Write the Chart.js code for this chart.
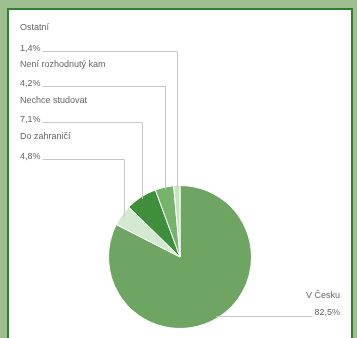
<!DOCTYPE html>
<html>
<head>
<meta charset="utf-8">
<script src="https://cdn.jsdelivr.net/npm/chart.js@4"></script>
<style>
  html, body { margin: 0; padding: 0; }
  body { width: 357px; height: 338px; background: #9dbf8f; position: relative; overflow: hidden; }
  #panel { position: absolute; left: 7px; top: 8px; width: 342px; height: 340px; background: #fff; border: 2px solid #2f7f35; }
  #c { position: absolute; left: 0; top: 0; }
</style>
</head>
<body>
<div id="panel"></div>
<canvas id="c" width="357" height="338"></canvas>
<script>
// Categories and shares (in %), clockwise from 12 o'clock
const categories = ['V Česku', 'Do zahraničí', 'Nechce studovat', 'Není rozhodnutý kam', 'Ostatní'];
const shares = [82.5, 4.8, 7.1, 4.2, 1.4];
const sliceColors = ['#6ea563', '#d4ead0', '#3e8e3c', '#77b46b', '#c5e3bd'];

// Label slots: left column (top to bottom) and the lone label at bottom right
const leftSlots = [
  { index: 4, nameY: 30, pctY: 51 },
  { index: 3, nameY: 67, pctY: 86 },
  { index: 2, nameY: 103, pctY: 122 },
  { index: 1, nameY: 139, pctY: 159 }
];
const rightSlot = { index: 0, nameY: 298, pctY: 315, right: 340 };

const fmt = v => v.toFixed(1).replace('.', ',') + '%';

const leaderLabels = {
  id: 'leaderLabels',
  afterDatasetsDraw(chart) {
    const ctx = chart.ctx;
    const arcs = chart.getDatasetMeta(0).data;
    const values = chart.data.datasets[0].data;
    const labels = chart.data.labels;
    ctx.save();
    ctx.font = '9px "Liberation Sans", Arial, sans-serif';
    ctx.fillStyle = '#666';
    ctx.strokeStyle = '#c8c8c8';
    ctx.lineWidth = 1;
    ctx.textBaseline = 'alphabetic';

    const anchor = (arc) => {
      const p = arc.getProps(['x', 'y', 'startAngle', 'endAngle', 'outerRadius'], true);
      const mid = (p.startAngle + p.endAngle) / 2;
      const r = p.outerRadius * 0.97;
      return { x: p.x + Math.cos(mid) * r, y: p.y + Math.sin(mid) * r };
    };

    leftSlots.forEach(s => {
      const a = anchor(arcs[s.index]);
      ctx.textAlign = 'left';
      ctx.fillText(labels[s.index], 20, s.nameY);
      const pct = fmt(values[s.index]);
      ctx.fillText(pct, 20, s.pctY);
      const x0 = 20 + ctx.measureText(pct).width + 2;
      const lx = Math.round(a.x) + 0.5;
      const ly = s.pctY + 0.5;
      ctx.beginPath();
      ctx.moveTo(x0, ly);
      ctx.lineTo(lx, ly);
      ctx.lineTo(lx, a.y);
      ctx.stroke();
    });

    {
      const s = rightSlot;
      const a = anchor(arcs[s.index]);
      ctx.textAlign = 'right';
      ctx.fillText(labels[s.index], s.right, s.nameY);
      const pct = fmt(values[s.index]);
      ctx.fillText(pct, s.right, s.pctY);
      const x1 = s.right - ctx.measureText(pct).width - 2;
      const ly = s.pctY + 1.5;
      ctx.beginPath();
      ctx.moveTo(a.x, ly);
      ctx.lineTo(x1, ly);
      ctx.stroke();
    }
    ctx.restore();
  }
};

new Chart(document.getElementById('c'), {
  type: 'pie',
  data: {
    labels: categories,
    datasets: [{
      data: shares,
      backgroundColor: sliceColors,
      borderColor: '#ffffff',
      borderWidth: 1
    }]
  },
  options: {
    responsive: false,
    animation: false,
    layout: { padding: { left: 108, right: 105, top: 184, bottom: 8 } },
    plugins: {
      legend: { display: false },
      tooltip: { enabled: false }
    }
  },
  plugins: [leaderLabels]
});
</script>
</body>
</html>
